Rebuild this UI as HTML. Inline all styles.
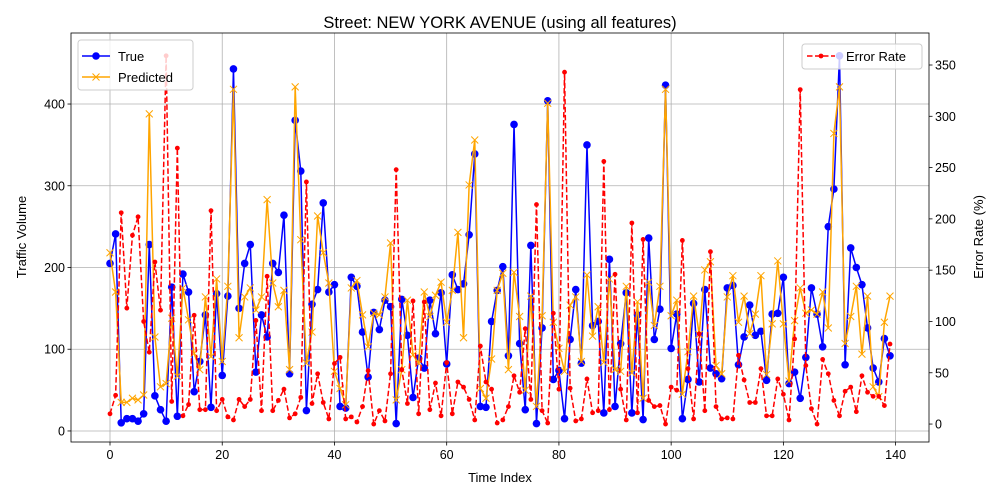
<!DOCTYPE html>
<html><head><meta charset="utf-8"><style>
body{margin:0;background:#fff;}
svg{display:block;font-family:"Liberation Sans","DejaVu Sans",sans-serif;}
</style></head><body>
<svg id="chart" width="1000" height="500" viewBox="0 0 1000 500"></svg>
<script>
const timeIndex = Array.from({length:140},(_,i)=>i);
const trueValues = [205,241,10,15,15,12,21,228,43,26,12,176,18,192,170,48,85,142,29,168,68,165,443,150,205,228,72,142,115,205,194,264,70,380,318,25,155,173,279,170,179,30,28,188,177,121,66,145,124,160,152,9,161,117,41,89,77,160,119,169,82,191,173,180,240,339,30,29,134,172,201,92,375,107,26,227,9,126,404,63,74,15,112,173,83,350,129,134,22,210,30,107,169,22,142,14,236,112,149,423,101,143,15,63,156,60,173,77,70,64,175,178,81,115,154,117,122,62,143,144,188,58,72,40,90,175,143,103,250,296,459,81,224,200,179,126,77,60,113,92];
const predictedValues = [218,170,35,35,40,38,44,388,115,54,58,138,67,175,136,95,75,164,91,186,85,177,418,114,164,175,148,164,283,181,152,172,75,421,234,83,121,263,218,181,73,52,32,175,184,142,103,144,142,164,230,38,75,160,93,83,170,140,166,182,133,172,243,114,301,356,52,40,88,172,193,75,194,140,50,165,30,141,401,133,101,73,154,164,85,191,116,152,84,186,75,73,177,71,158,40,182,129,177,418,141,160,45,97,165,118,197,207,80,70,164,190,133,165,119,143,190,69,131,208,131,61,135,175,144,148,143,170,126,364,421,107,140,177,94,165,54,42,133,165];
const errorRates = [10,28,206,113,184,202,100,70,158,111,359,22,269,8,19,106,14,14,208,13,24,7,4,24,17,24,101,13,144,13,23,34,6,10,26,236,20,49,21,5,59,65,5,7,2,17,52,0,13,3,49,248,53,20,120,10,119,14,40,8,60,10,41,36,24,4,76,41,34,1,4,17,47,31,93,24,214,13,1,108,34,343,35,3,5,44,11,13,256,14,146,34,4,196,11,180,23,17,18,0,36,33,179,54,5,88,13,168,17,5,6,5,67,43,21,21,54,8,8,44,29,4,83,326,57,15,0,63,49,23,8,32,36,12,47,31,27,27,18,78];
const xTicks = [0,20,40,60,80,100,120,140];
const yLeftTicks = [0,100,200,300,400];
const yRightTicks = [0,50,100,150,200,250,300,350];

const L=71,R=929,T=33,B=442;
const xMin=-6.95,xMax=145.95,yMin=-13.5,yMax=486.9,rMin=-17.5,rMax=381.2;
const xs=v=>L+(v-xMin)/(xMax-xMin)*(R-L);
const ys=v=>B-(v-yMin)/(yMax-yMin)*(B-T);
const rs=v=>B-(v-rMin)/(rMax-rMin)*(B-T);
const NS='http://www.w3.org/2000/svg';
const svg=document.getElementById('chart');
function mk(tag,attrs,parent){const e=document.createElementNS(NS,tag);for(const k in attrs)e.setAttribute(k,attrs[k]);(parent||svg).appendChild(e);return e;}
function txt(s,attrs,parent){const e=mk('text',attrs,parent);e.textContent=s;return e;}

const grid=mk('g',{});


xTicks.forEach(t=>{mk('line',{x1:xs(t),x2:xs(t),y1:T,y2:B,stroke:'#b0b0b0','stroke-width':0.8},grid);});
yLeftTicks.forEach(t=>{mk('line',{x1:L,x2:R,y1:ys(t),y2:ys(t),stroke:'#b0b0b0','stroke-width':0.8},grid);});

const tg=mk('g',{});


mk('polyline',{points:timeIndex.map((i)=>xs(i)+','+ys(trueValues[i])).join(' '),fill:'none',stroke:'#0000ff','stroke-width':1.5},tg);
timeIndex.forEach(i=>{const c=mk('circle',{cx:xs(i),cy:ys(trueValues[i]),r:3.8,fill:'#0000ff'},tg);

});

const pg=mk('g',{});


mk('polyline',{points:timeIndex.map(i=>xs(i)+','+ys(predictedValues[i])).join(' '),fill:'none',stroke:'#ffa500','stroke-width':1.5},pg);
timeIndex.forEach(i=>{const x=xs(i),y=ys(predictedValues[i]),d=3.5;
const m=mk('path',{d:`M${x-d},${y-d}L${x+d},${y+d}M${x-d},${y+d}L${x+d},${y-d}`,stroke:'#ffa500','stroke-width':1},pg);

});

const eg=mk('g',{});


mk('polyline',{points:timeIndex.map(i=>xs(i)+','+rs(errorRates[i])).join(' '),fill:'none',stroke:'#ff0000','stroke-width':1.5,'stroke-dasharray':'5.5,2.5'},eg);
timeIndex.forEach(i=>{const c=mk('circle',{cx:xs(i),cy:rs(errorRates[i]),r:2.4,fill:'#ff0000'},eg);

});

mk('rect',{x:L,y:T,width:R-L,height:B-T,fill:'none',stroke:'#000','stroke-width':0.8});

xTicks.forEach(t=>{mk('line',{x1:xs(t),x2:xs(t),y1:B,y2:B+3.5,stroke:'#000','stroke-width':0.8});
const e=txt(String(t),{x:xs(t),y:B+17,'font-size':12.5,'text-anchor':'middle'});

});
yLeftTicks.forEach(t=>{mk('line',{x1:L-3.5,x2:L,y1:ys(t),y2:ys(t),stroke:'#000','stroke-width':0.8});
const e=txt(String(t),{x:L-6,y:ys(t)+4.5,'font-size':12.5,'text-anchor':'end'});

});
yRightTicks.forEach(t=>{mk('line',{x1:R,x2:R+3.5,y1:rs(t),y2:rs(t),stroke:'#000','stroke-width':0.8});
const e=txt(String(t),{x:R+6,y:rs(t)+4.5,'font-size':12.5,'text-anchor':'start'});

});

let e;
e=txt('Street: NEW YORK AVENUE (using all features)',{x:500,y:28,'font-size':16.5,'text-anchor':'middle'});


e=txt('Time Index',{x:500,y:482,'font-size':13,'text-anchor':'middle'});


e=txt('Traffic Volume',{x:0,y:0,'font-size':13,'text-anchor':'middle',transform:'translate(26,237) rotate(-90)'});


e=txt('Error Rate (%)',{x:0,y:0,'font-size':13,'text-anchor':'middle',transform:'translate(983,237) rotate(-90)'});



const lg=mk('g',{});


mk('rect',{x:78,y:40,width:115,height:50,rx:3,fill:'#fff','fill-opacity':0.8,stroke:'#ccc'},lg);
mk('line',{x1:82,x2:110,y1:56,y2:56,stroke:'#0000ff','stroke-width':1.5},lg);
mk('circle',{cx:96,cy:56,r:3.8,fill:'#0000ff'},lg);
e=txt('True',{x:118,y:61,'font-size':13},lg);


mk('line',{x1:82,x2:110,y1:77,y2:77,stroke:'#ffa500','stroke-width':1.5},lg);
mk('path',{d:'M92.5,73.5L99.5,80.5M92.5,80.5L99.5,73.5',stroke:'#ffa500','stroke-width':1},lg);
e=txt('Predicted',{x:118,y:82,'font-size':13},lg);



const rg=mk('g',{});


mk('rect',{x:802,y:44,width:120,height:25,rx:3,fill:'#fff','fill-opacity':0.8,stroke:'#ccc'},rg);
mk('line',{x1:807,x2:835,y1:56,y2:56,stroke:'#ff0000','stroke-width':1.5,'stroke-dasharray':'5.5,2.5'},rg);
mk('circle',{cx:821,cy:56,r:2.4,fill:'#ff0000'},rg);
e=txt('Error Rate',{x:846,y:61,'font-size':13},rg);


</script>
</body></html>
